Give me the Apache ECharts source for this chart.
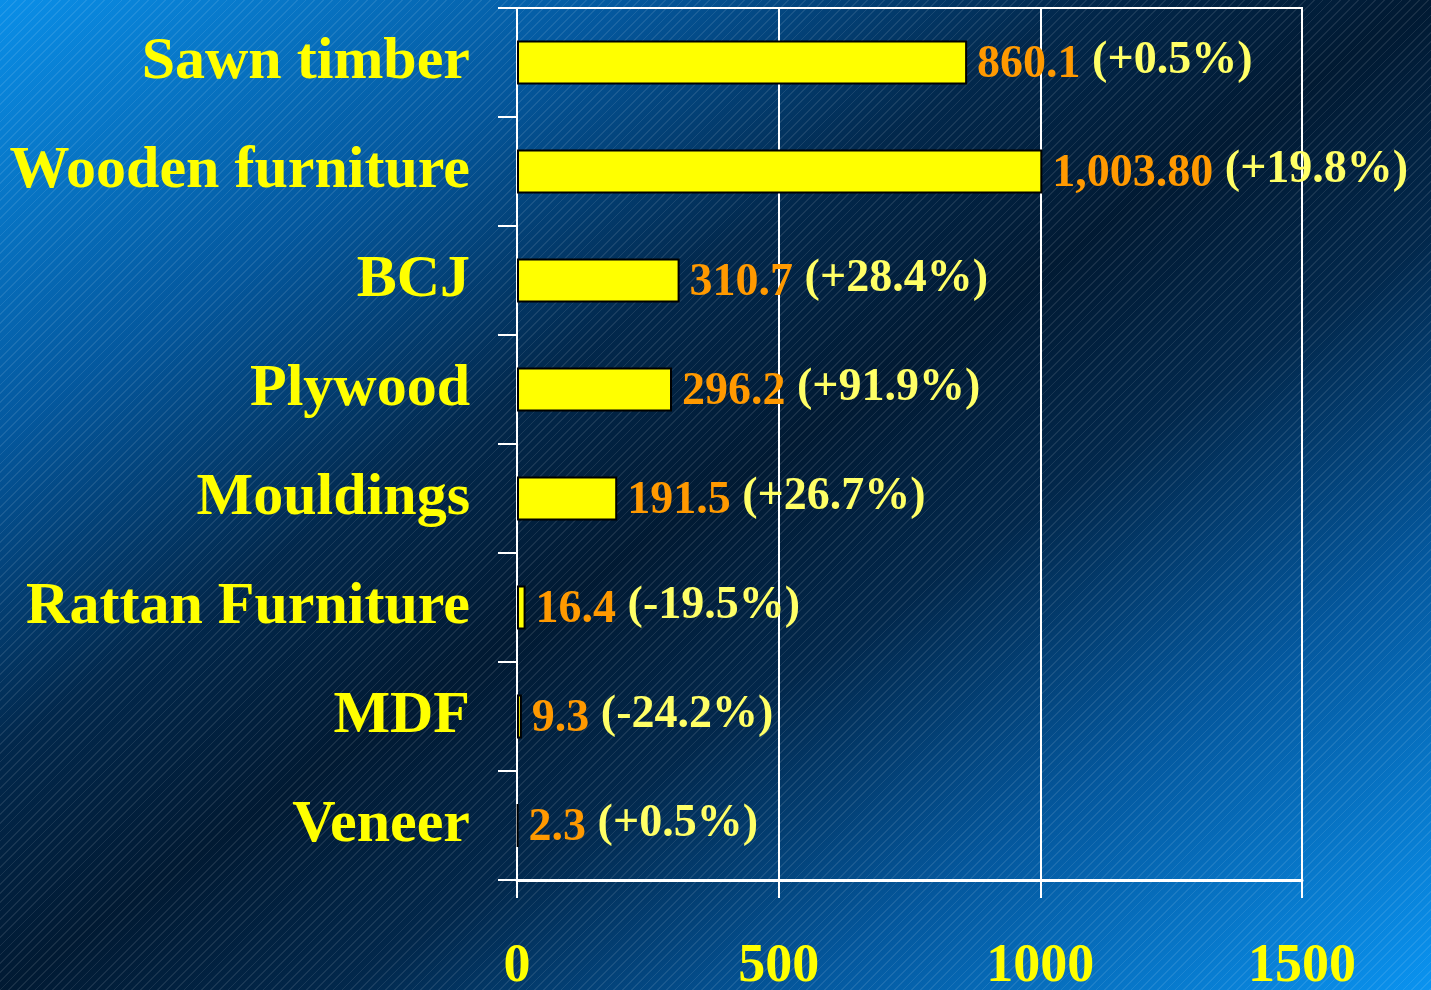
<!DOCTYPE html>
<html>
<head>
<meta charset="utf-8">
<script src="https://cdn.jsdelivr.net/npm/echarts@6/dist/echarts.min.js"></script>
<style>
  html, body { margin: 0; padding: 0; }
  body {
    width: 1431px;
    height: 990px;
    overflow: hidden;
    background:
      repeating-linear-gradient(135deg, rgba(255,255,255,0) 0px, rgba(255,255,255,0) 5px, rgba(255,255,255,0.09) 5px, rgba(255,255,255,0.09) 6.2px),
      linear-gradient(to bottom right, #0a8fe8 0%, #04589e 22%, #02284c 38%, #011a33 50%, #02284c 62%, #04589e 78%, #0a93f0 100%);
  }
  #chart { width: 1431px; height: 990px; }
</style>
</head>
<body>
<div id="chart"></div>
<script>
// top to bottom, as in the picture
const categories = ['Sawn timber', 'Wooden furniture', 'BCJ', 'Plywood', 'Mouldings', 'Rattan Furniture', 'MDF', 'Veneer'];
const values = [860.1, 1003.8, 310.7, 296.2, 191.5, 16.4, 9.3, 2.3];
const valueText = ['860.1', '1,003.80', '310.7', '296.2', '191.5', '16.4', '9.3', '2.3'];
const changeText = ['(+0.5%)', '(+19.8%)', '(+28.4%)', '(+91.9%)', '(+26.7%)', '(-19.5%)', '(-24.2%)', '(+0.5%)'];
const xTicks = [0, 500, 1000, 1500];

const serif = '"Liberation Serif", "Times New Roman", serif';

const chart = echarts.init(document.getElementById('chart'));

chart.setOption({
  backgroundColor: 'transparent',
  animation: false,
  grid: {
    left: 517,
    right: 129,
    top: 8,
    bottom: 110,
    containLabel: false,
    outerBoundsMode: 'none',
    show: true,
    backgroundColor: 'transparent',
    borderColor: '#ffffff',
    borderWidth: 2
  },
  xAxis: {
    type: 'value',
    min: xTicks[0],
    max: xTicks[xTicks.length - 1],
    interval: xTicks[1] - xTicks[0],
    axisLine: {
      show: true,
      lineStyle: { color: '#ffffff', width: 3 }
    },
    axisTick: {
      show: true,
      length: 18,
      lineStyle: { color: '#ffffff', width: 2 }
    },
    axisLabel: {
      color: '#ffff00',
      fontFamily: serif,
      fontWeight: 'bold',
      fontSize: 54,
      margin: 60,
      formatter: (v) => String(v)
    },
    splitLine: {
      show: true,
      lineStyle: { color: '#ffffff', width: 2 }
    }
  },
  yAxis: {
    type: 'category',
    inverse: true,
    data: categories,
    axisLine: {
      show: true,
      lineStyle: { color: '#ffffff', width: 2 }
    },
    axisTick: {
      show: true,
      length: 19,
      lineStyle: { color: '#ffffff', width: 2 }
    },
    axisLabel: {
      color: '#ffff00',
      fontFamily: serif,
      fontWeight: 'bold',
      fontSize: 60,
      margin: 47,
      padding: [8, 0, 0, 0]
    }
  },
  series: [{
    type: 'bar',
    data: values,
    barWidth: 44,
    itemStyle: {
      color: '#ffff00',
      borderColor: '#000000',
      borderWidth: 2
    },
    label: {
      show: true,
      position: 'right',
      distance: 10,
      fontFamily: serif,
      fontWeight: 'bold',
      fontSize: 46,
      offset: [0, 3],
      formatter: (p) => `{v|${valueText[p.dataIndex]}} {p|${changeText[p.dataIndex]}}`,
      rich: {
        v: {
          color: '#ff9900',
          fontFamily: serif,
          fontWeight: 'bold',
          fontSize: 46
        },
        p: {
          color: '#ffff66',
          fontFamily: serif,
          fontWeight: 'bold',
          fontSize: 46,
          padding: [0, 0, 8, 0]
        }
      }
    }
  }]
});
</script>
</body>
</html>
